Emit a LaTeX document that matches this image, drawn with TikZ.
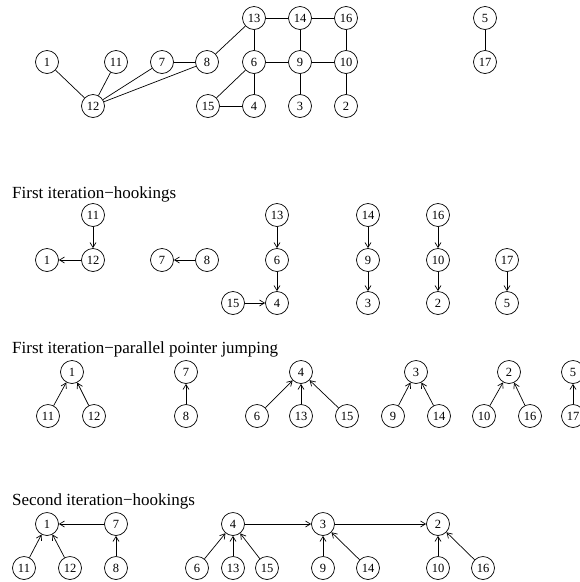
\documentclass[tikz,border=0pt]{standalone}
\usepackage{fontspec}
\setmainfont{Liberation Serif}
\usetikzlibrary{arrows.meta}
\tikzset{
  vtx/.style={circle,draw,line width=0.7pt,minimum size=23pt,inner sep=0pt,font=\fontsize{12.5}{13}\selectfont},
  edge/.style={line width=0.7pt},
  arc/.style={line width=0.7pt,-{Straight Barb[length=5pt,width=6pt,line width=0.7pt]}},
  ttl/.style={anchor=base west,inner sep=0pt,font=\fontsize{17}{18}\selectfont}
}
\begin{document}
\begin{tikzpicture}[x=1pt,y=-1pt]
\useasboundingbox (0,0) rectangle (580,582);
% ---------- top graph ----------
\foreach \n/\x/\y in {13/254/18,14/300/18,16/346/18,5/485/18,
  1/47/62,11/116/62,7/162/62,8/207/62,6/254/62,9/300/62,10/346/62,17/485/62,
  12/93/106,15/208/106,4/254/106,3/300/106,2/346/106}
  \node[vtx] (a\n) at (\x,\y) {\n};
\foreach \u/\v in {1/12,11/12,7/12,8/12,7/8,8/13,13/14,14/16,13/6,14/9,16/10,6/9,9/10,6/15,6/4,15/4,9/3,10/2,5/17}
  \draw[edge] (a\u) -- (a\v);
% ---------- first iteration hookings ----------
\node[ttl] (t1) at (12,198) {First iteration−hookings};
\foreach \n/\x/\y in {11/93/215,1/47/260,12/93/260,7/162/260,8/207/260,
  13/277/215,6/277/260,4/277/303,15/233/303,
  14/368/215,9/368/260,3/368/303,16/438/215,10/438/260,2/438/303,
  17/507/260,5/507/303}
  \node[vtx] (b\n) at (\x,\y) {\n};
\foreach \u/\v in {11/12,12/1,8/7,13/6,6/4,15/4,14/9,9/3,16/10,10/2,17/5}
  \draw[arc] (b\u) -- (b\v);
% ---------- first iteration pointer jumping ----------
\node[ttl] (t2) at (12,353) {First iteration−parallel pointer jumping};
\foreach \n/\x/\y in {1/72/372,11/48/416,12/94/416,7/186/372,8/186/416,
  4/301/372,6/257/416,13/301/416,15/347/416,
  3/416/372,9/393/416,14/439/416,2/509/372,10/484/416,16/530/416,
  5/573/372,17/573/416}
  \node[vtx] (c\n) at (\x,\y) {\n};
\foreach \u/\v in {11/1,12/1,8/7,6/4,13/4,15/4,9/3,14/3,10/2,16/2,17/5}
  \draw[arc] (c\u) -- (c\v);
% ---------- second iteration hookings ----------
\node[ttl] (t3) at (12,505) {Second iteration−hookings};
\foreach \n/\x/\y in {1/47/524,7/116/524,11/24/568,12/70/568,8/116/568,
  4/233/524,6/197/568,13/233/568,15/267/568,
  3/323/524,9/323/568,14/368/568,2/438/524,10/438/568,16/483/568}
  \node[vtx] (d\n) at (\x,\y) {\n};
\foreach \u/\v in {11/1,12/1,7/1,8/7,6/4,13/4,15/4,4/3,9/3,14/3,3/2,10/2,16/2}
  \draw[arc] (d\u) -- (d\v);
\end{tikzpicture}
\end{document}
